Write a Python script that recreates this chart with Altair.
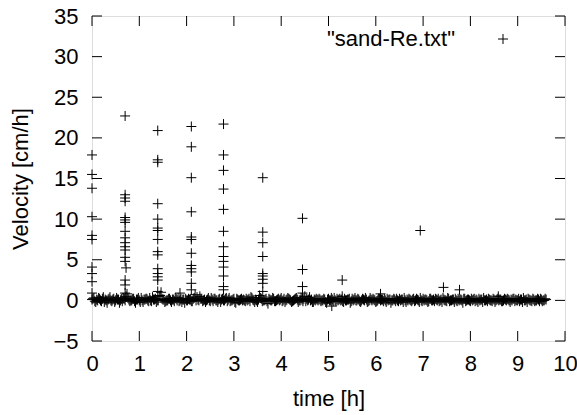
import altair as alt
import pandas as pd

# ---------------- data ----------------
DT = 0.04  # sampling step of the baseline records [h]
baseline_v = [
    0.1, 0.3, -0.2, 0.0, 0.2, -0.1, 0.4, 0.1, -0.3, 0.2, 0.0, 0.1, -0.2, 0.3, 0.1, 0.0, -0.1, 0.2, 0.5, 0.3,
    -0.1, 0.0, 0.2, -0.3, 0.1, 0.0, 0.3, -0.2, 0.1, 0.2, -0.1, 0.0, 0.4, 0.1, -0.2, 0.0, 0.6, 0.2, 0.1, -0.1,
    0.0, 0.2, -0.2, 0.1, 0.3, 0.0, -0.1, 0.2, 0.1, -0.3, 0.0, 0.2, 0.1, -0.1, 0.3, 0.0, 0.1, 0.5, 0.2, 0.0,
    -0.2, 0.1, 0.0, 0.3, -0.1, 0.2, 0.0, 0.1, -0.2, 0.2, 0.0, 0.3, 0.1, -0.1, 0.0, 0.2, -0.3, 0.1, 0.0, 0.2,
    0.1, -0.1, 0.0, 0.2, 0.4, 0.1, -0.2, 0.0, 0.1, 0.3, -0.1, 0.0, 0.2, -0.4, 0.1, 0.0, 0.2, -0.1, 0.1, 0.0,
    0.3, 0.0, -0.2, 0.1, 0.2, 0.0, -0.1, 0.1, 0.3, -0.2, 0.0, 0.1, 0.2, -0.1, 0.0, 0.4, 0.1, -0.2, 0.0, 0.1,
    0.2, -0.1, 0.0, 0.1, -0.3, 0.2, 0.0, 0.1, 0.3, -0.1, 0.0, 0.2, 0.1, -0.2, 0.0, 0.1, 0.2, -0.1, 0.0, 0.3,
    0.0, 0.1, -0.2, 0.2, 0.0, 0.1, -0.1, 0.3, 0.0, 0.1, -0.2, 0.0, 0.2, 0.1, -0.1, 0.0, 0.2, 0.1, -0.3, 0.0,
    0.1, 0.2, -0.1, 0.0, 0.1, 0.3, -0.2, 0.0, 0.1, -0.1, 0.2, 0.0, 0.1, -0.2, 0.0, 0.2, 0.1, 0.0, -0.1, 0.2,
    0.0, -0.1, 0.1, 0.2, 0.0, -0.2, 0.1, 0.0, 0.3, -0.1, 0.0, 0.1, 0.2, -0.1, 0.0, 0.1, -0.3, 0.2, 0.0, 0.1,
    -0.1, 0.0, 0.2, 0.1, -0.2, 0.0, 0.1, 0.3, 0.0, -0.1, 0.1, 0.0, 0.2, -0.2, 0.1, 0.0, 0.1, -0.1, 0.2, 0.0,
    0.1, -0.2, 0.0, 0.2, 0.1, 0.0, -0.1, 0.1, 0.3, 0.0, -0.2, 0.1, 0.0, 0.2, -0.1, 0.0, 0.1, 0.2, -0.1, 0.0, 0.1,
]
# second set of baseline records, half a step later
baseline2_v = [
    0.2, -0.1, 0.1, 0.3, 0.0, 0.2, -0.2, 0.0, 0.1, 0.4, -0.1, 0.2, 0.0, 0.1, -0.3, 0.2, 0.3, 0.0, 0.8, 0.1,
    0.0, 0.2, -0.1, 0.1, 0.3, -0.2, 0.0, 0.1, 0.2, 0.0, 0.3, -0.1, 0.1, 0.2, 0.0, 0.5, 1.0, 0.1, -0.2, 0.0,
    0.2, 0.0, 0.1, -0.1, 0.2, 0.3, 0.0, -0.2, 0.1, 0.2, 0.0, 0.1, -0.1, 0.2, 0.7, 0.4, 0.0, 0.2, -0.1, 0.1,
    0.0, 0.3, -0.1, 0.1, 0.2, 0.0, -0.2, 0.2, 0.1, 0.0, 0.2, -0.1, 0.3, 0.0, 0.1, -0.2, 0.2, 0.0, 0.1, 0.0,
    0.0, 0.2, 0.1, -0.1, 0.3, 0.0, 0.1, -0.2, 0.6, 0.2, 0.0, 0.1, -0.1, 0.2, 0.0, 0.3, -0.1, 0.0, 0.2, 0.1,
    -0.1, 0.2, 0.0, 0.3, 0.1, -0.2, 0.0, 0.2, 0.1, 0.0, 0.3, -0.1, 0.5, 0.2, 0.1, 0.0, -0.2, 0.1, 0.2, 0.0,
    0.1, 0.0, 0.2, -0.2, 0.1, 0.0, 0.3, -0.1, 0.0, 0.2, 0.1, 0.0, -0.1, 0.2, 0.0, 0.1, -0.3, 0.2, 0.1, 0.0,
    0.2, -0.1, 0.0, 0.1, 0.3, -0.2, 0.0, 0.1, 0.2, 0.0, -0.1, 0.2, 0.0, 0.1, 0.2, -0.2, 0.0, 0.1, 0.0, 0.2,
    -0.1, 0.0, 0.2, 0.1, -0.2, 0.0, 0.1, 0.2, 0.0, 0.1, -0.1, 0.2, 0.0, 0.3, -0.1, 0.0, 0.1, -0.2, 0.2, 0.0,
    0.1, 0.2, 0.0, -0.1, 0.1, 0.3, 0.0, -0.1, 0.2, 0.0, 0.1, -0.2, 0.0, 0.2, 0.1, 0.0, 0.2, -0.1, 0.1, 0.0,
    0.2, 0.1, -0.1, 0.0, 0.2, 0.1, -0.2, 0.0, 0.1, 0.2, 0.0, -0.1, 0.1, 0.0, 0.2, 0.1, -0.1, 0.0, 0.1, 0.2,
    0.0, 0.1, 0.2, -0.1, 0.0, 0.2, 0.1, -0.2, 0.0, 0.1, 0.2, 0.0, -0.1, 0.1, 0.0, 0.2, -0.1, 0.1, 0.0, 0.2,
]
baseline_t = [round(i * DT, 2) for i in range(len(baseline_v))]
baseline2_t = [round(i * DT + DT / 2, 2) for i in range(len(baseline2_v))]

# bursts: time [h] -> velocities [cm/h]
burst_times = [0.00, 0.70, 0.72, 1.39, 1.86, 2.10, 2.78, 3.61, 4.45, 5.07, 5.29, 6.10, 6.94, 7.43, 7.77, 8.59]
burst_values = [
    [17.9, 15.5, 13.8, 10.3, 8.0, 7.5, 4.1, 3.3, 2.3, 0.9],
    [22.7, 13.0, 12.6, 12.2, 10.2, 9.9, 9.6, 8.5, 7.7, 7.1, 6.6, 6.2, 5.3, 4.8, 2.5, 1.9, 0.9],
    [4.0],
    [20.9, 17.3, 17.0, 11.9, 10.0, 8.9, 8.6, 7.5, 6.0, 5.6, 3.9, 3.3, 2.9, 2.5, 1.1],
    [0.9],
    [21.4, 18.9, 15.1, 10.9, 7.8, 7.5, 5.8, 4.3, 3.9, 3.5, 2.1, 1.3],
    [21.7, 17.9, 16.0, 13.7, 11.2, 8.5, 6.6, 5.4, 4.8, 4.1, 3.0, 1.7, 1.3],
    [15.1, 8.4, 7.1, 5.4, 3.3, 3.0, 2.6, 2.1, 1.1],
    [10.1, 3.8, 1.7, 0.9],
    [-0.7],
    [2.5, 0.5],
    [0.8],
    [8.6],
    [1.6],
    [1.3],
    [0.5],
]

x_ticks = [0, 1, 2, 3, 4, 5, 6, 7, 8, 9, 10]
y_ticks = [-5, 0, 5, 10, 15, 20, 25, 30, 35]
LEGEND_LABEL = '"sand-Re.txt"'

# ---------------- build table ----------------
rows_t = list(baseline_t) + list(baseline2_t)
rows_v = list(baseline_v) + list(baseline2_v)
for t, vals in zip(burst_times, burst_values):
    for v in vals:
        rows_t.append(t)
        rows_v.append(v)
df = pd.DataFrame({"time": rows_t, "velocity": rows_v})

W, H = 473, 325
FONT = "Liberation Sans"
PLUS = "M-1,0L1,0M0,-1L0,1"

xscale = alt.Scale(domain=[0, 10], nice=False, zero=False)
yscale = alt.Scale(domain=[-5, 35], nice=False, zero=False)

points = alt.Chart(df).mark_point(
    shape=PLUS, size=100, filled=False, stroke="black", strokeWidth=1, opacity=1, clip=False
).encode(
    x=alt.X("time:Q", scale=xscale,
            axis=alt.Axis(title="time [h]", values=x_ticks, ticks=False, domain=False, grid=False,
                          labelFlush=False, labelOverlap=False,
                          labelFontSize=22, labelFont=FONT, labelColor="black", labelPadding=12,
                          titleFontSize=22, titleFont=FONT, titleColor="black", titleFontWeight="normal",
                          titlePadding=14)),
    y=alt.Y("velocity:Q", scale=yscale,
            axis=alt.Axis(title="Velocity [cm/h]", values=y_ticks, ticks=False, domain=False, grid=False,
                          labelFlush=False, labelOverlap=False,
                          labelFontSize=22, labelFont=FONT, labelColor="black", labelPadding=14,
                          titleFontSize=22, titleFont=FONT, titleColor="black", titleFontWeight="normal",
                          titlePadding=20)),
)

xt = pd.DataFrame({"t": x_ticks})
yt = pd.DataFrame({"v": y_ticks})

tick_bottom = alt.Chart(xt).mark_rule(color="black", strokeWidth=1).encode(
    x=alt.X("t:Q", scale=xscale), y=alt.value(H), y2=alt.value(H - 10))
tick_top = alt.Chart(xt).mark_rule(color="black", strokeWidth=1).encode(
    x=alt.X("t:Q", scale=xscale), y=alt.value(0), y2=alt.value(10))
tick_left = alt.Chart(yt).mark_rule(color="black", strokeWidth=1).encode(
    y=alt.Y("v:Q", scale=yscale), x=alt.value(0), x2=alt.value(10))
tick_right = alt.Chart(yt).mark_rule(color="black", strokeWidth=1).encode(
    y=alt.Y("v:Q", scale=yscale), x=alt.value(W), x2=alt.value(W - 10))

leg = pd.DataFrame({"label": [LEGEND_LABEL]})
legend_text = alt.Chart(leg).mark_text(
    align="right", baseline="middle", fontSize=22, font=FONT, color="black"
).encode(text="label:N", x=alt.value(363), y=alt.value(23))
legend_sym = alt.Chart(leg).mark_point(
    shape=PLUS, size=100, filled=False, stroke="black", strokeWidth=1, opacity=1
).encode(x=alt.value(411), y=alt.value(23))

chart = alt.layer(
    points, tick_bottom, tick_top, tick_left, tick_right, legend_text, legend_sym
).properties(
    width=W, height=H,
    autosize=alt.AutoSizeParams(type="none"),
    padding={"left": 92, "top": 16, "right": 12, "bottom": 74},
).configure_view(
    stroke="black", strokeWidth=1.5
).configure(background="white")

chart.save("out.html", embed_options={"renderer": "svg", "actions": False})
